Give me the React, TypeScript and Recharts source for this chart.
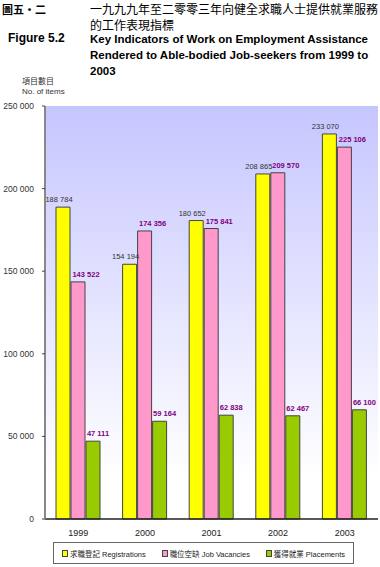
import React from 'react';
import { BarChart, Bar, XAxis, YAxis, CartesianGrid, LabelList } from 'recharts';

const years = ['1999', '2000', '2001', '2002', '2003'];
const registrations = [188784, 154194, 180652, 208865, 233070];
const vacancies = [143522, 174356, 175841, 209570, 225106];
const placements = [47111, 59164, 62838, 62467, 66100];
const yTicks = [0, 50000, 100000, 150000, 200000, 250000];

const data = years.map((y, i) => ({
  year: y,
  reg: registrations[i],
  vac: vacancies[i],
  pla: placements[i],
}));

const fmt = (v: number) => (v === 0 ? '0' : v.toLocaleString('en-US').replace(/,/g, ' '));

const FONT = '"Liberation Sans", Arial, sans-serif';
const CJK = '"Noto Sans CJK TC", sans-serif';

const makeLabel = (color: string, bold: boolean, dx: number) => (props: any) => {
  const { x, y, width, value } = props;
  return (
    <text
      x={x + width / 2 + dx}
      y={y - 5}
      textAnchor="middle"
      fontSize={7.5}
      fontFamily={FONT}
      fontWeight={bold ? 'bold' : 'normal'}
      fill={color}
    >
      {fmt(value)}
    </text>
  );
};

const YTick = (props: any) => {
  const { x, y, payload } = props;
  return (
    <text x={x - 6} y={y} dy={3} textAnchor="end" fontSize={8.5} fontFamily={FONT} fill="#333">
      {fmt(payload.value)}
    </text>
  );
};

const legendItems = [
  { color: '#ffff00', label: '求職登記 Registrations' },
  { color: '#ff99cc', label: '職位空缺 Job Vacancies' },
  { color: '#99cc00', label: '獲得就業 Placements' },
];

export default function App() {
  return (
    <div style={{ position: 'fixed', left: 0, top: 0, width: 380, height: 567, background: '#fff', fontFamily: FONT, overflow: 'hidden' }}>
      <div style={{ position: 'absolute', left: 2, top: 1, fontSize: 11, fontFamily: CJK, fontWeight: 'bold' }}>圖五・二</div>
      <div style={{ position: 'absolute', left: 90, top: 1, fontSize: 12, lineHeight: '16px', fontFamily: CJK, whiteSpace: 'nowrap' }}>
        <div>一九九九年至二零零三年向健全求職人士提供就業服務</div>
        <div>的工作表現指標</div>
      </div>
      <div style={{ position: 'absolute', left: 8, top: 31, fontSize: 12, fontWeight: 'bold' }}>Figure 5.2</div>
      <div style={{ position: 'absolute', left: 90, top: 31, fontSize: 11.5, lineHeight: '16px', fontWeight: 'bold', whiteSpace: 'nowrap' }}>
        <div>Key Indicators of Work on Employment Assistance</div>
        <div>Rendered to Able-bodied Job-seekers from 1999 to</div>
        <div>2003</div>
      </div>
      <div style={{ position: 'absolute', left: 22, top: 75, fontSize: 8, color: '#333', fontFamily: CJK }}>項目數目</div>
      <div style={{ position: 'absolute', left: 22, top: 87, fontSize: 8, color: '#333' }}>No. of items</div>

      <div style={{ position: 'absolute', left: 0, top: 0 }}>
        <BarChart
          width={380}
          height={567}
          data={data}
          margin={{ top: 106, right: 2, left: 0, bottom: 26 }}
          barCategoryGap={11}
          barGap={1}
        >
          <defs>
            <linearGradient id="bg" x1="0" y1="0" x2="0" y2="1">
              <stop offset="0%" stopColor="#c6c6ff" />
              <stop offset="90%" stopColor="#ffffff" />
            </linearGradient>
          </defs>
          <CartesianGrid horizontal={false} vertical={false} fill="url(#bg)" />
          <XAxis
            dataKey="year"
            axisLine={{ stroke: '#222', strokeWidth: 1.5 }}
            tickLine={false}
            tick={{ fontSize: 9, fill: '#222', fontFamily: FONT, dy: 3 }}
            height={22}
          />
          <XAxis xAxisId="top" orientation="top" dataKey="year" height={0} tick={false} tickLine={false} axisLine={{ stroke: '#aaa' }} />
          <YAxis
            domain={[0, 250000]}
            ticks={yTicks}
            width={45}
            interval={0}
            axisLine={{ stroke: '#888', strokeWidth: 2 }}
            tickLine={{ stroke: '#444' }}
            tickSize={3}
            tick={<YTick />}
          />
          <YAxis yAxisId="right" orientation="right" width={0} tick={false} tickLine={false} axisLine={{ stroke: '#aaa' }} />
          <Bar dataKey="reg" fill="#ffff00" stroke="#444" strokeWidth={1} isAnimationActive={false}>
            <LabelList dataKey="reg" content={makeLabel('#333', false, -4)} />
          </Bar>
          <Bar dataKey="vac" fill="#ff99cc" stroke="#444" strokeWidth={1} isAnimationActive={false}>
            <LabelList dataKey="vac" content={makeLabel('#800080', true, 8)} />
          </Bar>
          <Bar dataKey="pla" fill="#99cc00" stroke="#444" strokeWidth={1} isAnimationActive={false}>
            <LabelList dataKey="pla" content={makeLabel('#800080', true, 5)} />
          </Bar>
        </BarChart>
      </div>

      <div style={{ position: 'absolute', left: 53, top: 542, width: 301, height: 22, border: '1px solid #666', boxSizing: 'border-box', display: 'flex', alignItems: 'center', justifyContent: 'space-around', fontSize: 7.5, color: '#222' }}>
        {legendItems.map((it) => (
          <span key={it.label} style={{ display: 'flex', alignItems: 'center', gap: 2 }}>
            <span style={{ width: 4, height: 5, background: it.color, border: '1px solid #444', display: 'inline-block' }} />
            <span style={{ fontFamily: '"Liberation Sans", "Noto Sans CJK TC", sans-serif' }}>{it.label}</span>
          </span>
        ))}
      </div>
    </div>
  );
}
